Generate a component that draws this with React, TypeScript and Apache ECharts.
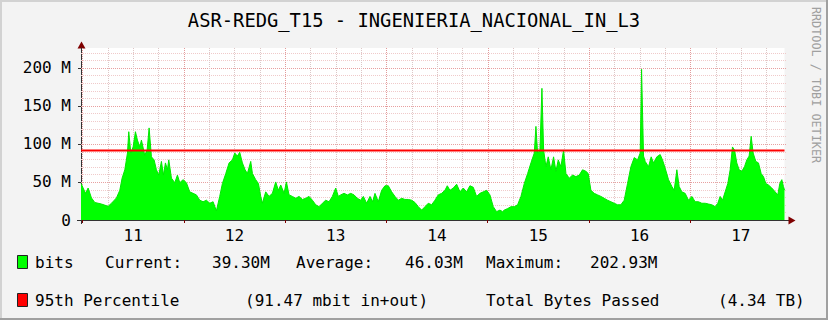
import React, { useEffect, useRef } from "react";
import * as echarts from "echarts";

const TITLE = "ASR-REDG_T15 - INGENIERIA_NACIONAL_IN_L3";
const SIDE_TEXT = "RRDTOOL / TOBI OETIKER";

// time in hours (label "11" sits at 24 h), traffic in Mbit/s
const hours = [
  11.65, 12.16, 12.71, 13.34, 14.13, 14.92, 16.5, 18.08, 18.87, 20.05, 20.84, 21.39, 22.03, 22.66, 22.97, 23.45,
  24.0, 24.55, 25.02, 25.58, 25.97, 26.76, 27.32, 27.79, 28.34, 28.97, 29.52, 30.08, 30.71, 31.18, 31.66, 32.13,
  32.45, 33.08, 33.87, 34.5, 35.05, 35.84, 36.63, 37.42, 38.21, 39.0, 39.79, 40.58, 41.37, 42.16, 42.95, 43.73,
  44.52, 45.16, 45.95, 46.74, 47.53, 48.08, 48.71, 49.26, 49.9, 50.53, 51.08, 51.87, 52.27, 53.05, 53.69, 54.24,
  54.63, 55.42, 56.21, 57.0, 57.79, 58.42, 58.98, 59.77, 60.32, 60.95, 61.74, 62.53, 63.32, 64.11, 64.9, 65.69,
  66.48, 67.27, 68.06, 68.85, 69.63, 70.42, 71.21, 72.0, 72.63, 73.19, 73.98, 74.77, 75.56, 76.35, 77.13, 77.92,
  78.55, 79.34, 80.13, 80.76, 81.31, 82.1, 82.89, 83.68, 84.47, 85.26, 86.05, 86.84, 87.63, 88.42, 89.21, 90.0,
  90.79, 91.58, 92.37, 93.16, 93.94, 94.73, 95.52, 96.31, 97.1, 97.89, 98.44, 99.08, 99.87, 100.66, 101.45, 102.23,
  103.02, 103.81, 104.6, 105.39, 106.18, 106.97, 107.76, 108.55, 109.34, 110.13, 110.92, 111.55, 111.95, 112.74, 113.53, 114.32,
  115.11, 115.9, 116.69, 117.48, 118.27, 119.06, 119.45, 119.84, 120.4, 120.87, 121.27, 121.82, 122.37, 123.0, 123.63, 124.19,
  124.74, 125.37, 126.0, 126.56, 127.34, 128.13, 128.92, 129.71, 130.5, 131.29, 131.84, 132.48, 133.27, 134.06, 134.85, 135.63,
  136.42, 137.21, 138.0, 138.79, 139.58, 140.37, 141.16, 141.95, 142.74, 143.53, 144.16, 144.48, 144.95, 145.34, 146.13, 146.76,
  147.31, 148.1, 148.89, 149.44, 150.08, 150.87, 151.66, 152.21, 152.84, 153.39, 154.02, 154.81, 155.6, 156.39, 157.18, 157.97,
  158.76, 159.55, 160.34, 161.13, 161.92, 162.55, 163.1, 163.66, 164.29, 164.92, 165.47, 166.02, 166.5, 167.05, 167.6, 168.24,
  168.87, 169.42, 169.97, 170.45, 170.92, 171.55, 172.18, 172.82, 173.37, 173.92, 174.55, 175.34, 176.13, 176.76, 177.24, 177.71,
  178.1, 178.35,
];
const bitsM = [
  48, 42, 35, 42, 29, 23, 21, 18, 22, 29, 39, 55, 66, 88, 116, 88,
  96, 116, 105, 96, 105, 85, 92, 121, 83, 79, 66, 59, 77, 59, 75, 66,
  79, 55, 49, 59, 49, 53, 49, 37, 35, 33, 26, 24, 26, 22, 24, 12,
  31, 48, 61, 75, 79, 88, 84, 89, 75, 66, 61, 77, 61, 53, 48, 31,
  22, 37, 31, 35, 50, 39, 46, 35, 50, 33, 31, 28.5, 31, 27, 28.5, 31,
  26, 20, 17.5, 22, 26, 24, 31, 42, 31, 33, 35, 33, 35, 33, 28.5, 26,
  31, 22, 31, 24, 35, 24, 39, 45, 45, 37, 31, 26, 28.5, 27, 27, 26,
  23, 17.5, 13, 17.5, 22, 20, 26, 33, 35, 39, 45, 39, 42, 47, 37, 42,
  37, 45, 43, 31, 35, 37, 39, 33, 17.5, 11, 13, 11, 13, 15, 17.5, 17.5,
  20, 31, 48, 61, 75, 88, 123, 88, 92, 173, 92, 70, 83, 66, 83, 64,
  79, 70, 92, 61, 55, 59, 57, 59, 66, 64, 61, 39, 35, 33, 31, 28.5,
  26, 24, 22, 20, 20, 26, 48, 70, 82, 79, 88, 198, 84, 77, 70, 83,
  75, 83, 86, 79, 68, 53, 44, 39, 66, 44, 37, 35, 26, 31, 24, 24,
  22, 22, 21, 20, 17.5, 22, 31, 26, 37, 48, 66, 96, 92, 75, 66, 64,
  70, 79, 84, 110, 88, 77, 75, 61, 57, 48, 46, 42, 37, 33, 48, 53,
  44, 39.3,
];
const percentile95 = 91.47;

const xMin = 11.65;
const xMax = 178.35;
const yMax = 226;

const dayLabelHours = [24, 48, 72, 96, 120, 144, 168];
const dayLabels = ["11", "12", "13", "14", "15", "16", "17"];
const majorGridHours = [12, 36, 60, 84, 108, 132, 156];
const minorGridHours = [
  18, 24, 30, 42, 48, 54, 66, 72, 78, 90, 96, 102, 114, 120, 126, 138, 144, 150, 162, 168, 174,
];
const yLabelValues = [0, 50, 100, 150, 200];
const yMajorGrid = [50, 100, 150, 200];
const yMinorGrid = [
  10, 20, 30, 40, 60, 70, 80, 90, 110, 120, 130, 140, 160, 170, 180, 190, 210, 220,
];

const legendRow1 = [
  { text: "bits", x: 35 },
  { text: "Current:", x: 105 },
  { text: "39.30M", x: 212 },
  { text: "Average:", x: 296 },
  { text: "46.03M", x: 405 },
  { text: "Maximum:", x: 486 },
  { text: "202.93M", x: 590 },
];
const legendRow2 = [
  { text: "95th Percentile", x: 35 },
  { text: "(91.47 mbit in+out)", x: 245 },
  { text: "Total Bytes Passed", x: 486 },
  { text: "(4.34 TB)", x: 718 },
];

const FONT = "DejaVu Sans Mono";

export default function App() {
  const ref = useRef<HTMLDivElement>(null);

  useEffect(() => {
    if (!ref.current) return;
    const chart = echarts.init(ref.current, undefined, { renderer: "svg" });

    const areaData = hours.map((h, i) => [h, bitsM[i]]);
    const vGrid = [
      ...minorGridHours.map((h) => [h, 0]),
      ...majorGridHours.map((h) => [h, 1]),
    ];
    const hGrid = [
      ...yMinorGrid.map((v) => [xMin, v, 0]),
      ...yMajorGrid.map((v) => [xMin, v, 1]),
    ];

    const legendText = (row: { text: string; x: number }[], y: number) =>
      row.map((t) => ({
        type: "text",
        x: t.x,
        y,
        silent: true,
        style: {
          text: t.text,
          font: `16px '${FONT}'`,
          fill: "#000",
          textAlign: "left",
          textVerticalAlign: "middle",
        },
      }));

    chart.setOption({
      animation: false,
      backgroundColor: "#F3F3F3",
      grid: {
        left: 81,
        top: 48,
        width: 703.5,
        height: 172,
        show: true,
        backgroundColor: "#FFFFFF",
        borderWidth: 0,
        containLabel: false,
      },
      xAxis: {
        type: "value",
        min: xMin,
        max: xMax,
        axisLine: { show: true, lineStyle: { color: "#333", width: 1 } },
        axisTick: {
          show: true,
          length: 3,
          customValues: majorGridHours,
          lineStyle: { color: "#7F0000" },
        },
        axisLabel: {
          customValues: dayLabelHours,
          margin: 7,
          color: "#000",
          fontFamily: FONT,
          fontSize: 16,
          formatter: (v: number) => {
            const i = dayLabelHours.indexOf(Math.round(v));
            return i >= 0 ? dayLabels[i] : "";
          },
        },
        splitLine: { show: false },
      },
      yAxis: {
        type: "value",
        min: 0,
        max: yMax,
        axisLine: { show: true, lineStyle: { color: "#333", width: 1 } },
        axisTick: {
          show: true,
          length: 3,
          customValues: yLabelValues,
          lineStyle: { color: "#333" },
        },
        axisLabel: {
          customValues: yLabelValues,
          margin: 10,
          color: "#000",
          fontFamily: FONT,
          fontSize: 16,
          formatter: (v: number) => (v === 0 ? "0" : `${v} M`),
        },
        splitLine: { show: false },
      },
      series: [
        {
          type: "custom",
          silent: true,
          z: 1,
          data: hGrid,
          encode: { x: 0, y: 1 },
          renderItem: (params: any, api: any) => {
            const cs = params.coordSys;
            const y = Math.round(api.coord([xMin, api.value(1)])[1]) + 0.5;
            const major = api.value(2) === 1;
            return {
              type: "line",
              shape: { x1: cs.x, y1: y, x2: cs.x + cs.width + 2, y2: y },
              style: {
                stroke: major ? "#E8A0A0" : "#F0CACA",
                lineWidth: 1,
                lineDash: [1, 1],
              },
            };
          },
        },
        {
          type: "custom",
          silent: true,
          z: 1,
          data: vGrid,
          encode: { x: 0 },
          renderItem: (params: any, api: any) => {
            const cs = params.coordSys;
            const x = Math.round(api.coord([api.value(0), 0])[0]) + 0.5;
            const major = api.value(1) === 1;
            return {
              type: "line",
              shape: { x1: x, y1: cs.y, x2: x, y2: cs.y + cs.height },
              style: {
                stroke: major ? "#E29A9A" : "#DCC6C6",
                lineWidth: 1,
                lineDash: [1, 1],
              },
            };
          },
        },
        {
          type: "line",
          name: "bits",
          data: areaData,
          z: 2,
          silent: true,
          symbol: "none",
          showSymbol: false,
          lineStyle: { width: 1, color: "#00E800" },
          areaStyle: { color: "#00FF00", opacity: 1 },
        },
        {
          type: "line",
          name: "95th Percentile",
          data: [
            [xMin, percentile95],
            [xMax, percentile95],
          ],
          z: 3,
          silent: true,
          symbol: "none",
          showSymbol: false,
          lineStyle: { width: 2, color: "#FF0000" },
        },
      ],
      graphic: [
        // frame
        { type: "rect", shape: { x: 0, y: 0, width: 828, height: 2 }, style: { fill: "#D2D2D2" }, silent: true },
        { type: "rect", shape: { x: 0, y: 0, width: 2, height: 320 }, style: { fill: "#D2D2D2" }, silent: true },
        { type: "rect", shape: { x: 826, y: 0, width: 2, height: 320 }, style: { fill: "#A0A0A0" }, silent: true },
        { type: "rect", shape: { x: 0, y: 318, width: 828, height: 2 }, style: { fill: "#A0A0A0" }, silent: true },
        // title
        {
          type: "text",
          x: 414,
          y: 20,
          silent: true,
          style: {
            text: TITLE,
            font: `18.8px '${FONT}'`,
            fill: "#000",
            textAlign: "center",
            textVerticalAlign: "middle",
          },
        },
        // side text
        {
          type: "text",
          x: 816,
          y: 85,
          rotation: -Math.PI / 2,
          silent: true,
          style: {
            text: SIDE_TEXT,
            font: `11.8px '${FONT}'`,
            fill: "#A0A0A0",
            textAlign: "center",
            textVerticalAlign: "middle",
          },
        },
        // axis extensions and arrows
        { type: "line", shape: { x1: 77, y1: 220.5, x2: 81, y2: 220.5 }, style: { stroke: "#333", lineWidth: 1 }, silent: true },
        { type: "line", shape: { x1: 784, y1: 220.5, x2: 789, y2: 220.5 }, style: { stroke: "#333", lineWidth: 1 }, silent: true },
        { type: "line", shape: { x1: 81.5, y1: 220, x2: 81.5, y2: 224 }, style: { stroke: "#333", lineWidth: 1 }, silent: true },
        { type: "line", shape: { x1: 81.5, y1: 44, x2: 81.5, y2: 48 }, style: { stroke: "#333", lineWidth: 1 }, silent: true },
        {
          type: "polygon",
          silent: true,
          shape: { points: [[81.5, 41.5], [77.5, 48.5], [85.5, 48.5]] },
          style: { fill: "#7F0000" },
        },
        {
          type: "polygon",
          silent: true,
          shape: { points: [[795.5, 220.5], [788.5, 216.5], [788.5, 224.5]] },
          style: { fill: "#7F0000" },
        },
        // legend
        {
          type: "rect",
          silent: true,
          shape: { x: 17.5, y: 255.5, width: 10, height: 13 },
          style: { fill: "#00FF00", stroke: "#222", lineWidth: 1 },
        },
        {
          type: "rect",
          silent: true,
          shape: { x: 17.5, y: 293.5, width: 10, height: 13 },
          style: { fill: "#FF0000", stroke: "#222", lineWidth: 1 },
        },
        ...legendText(legendRow1, 262),
        ...legendText(legendRow2, 300),
      ],
    });

    return () => chart.dispose();
  }, []);

  return (
    <div
      ref={ref}
      style={{ position: "absolute", left: 0, top: 0, width: 828, height: 320 }}
    />
  );
}
